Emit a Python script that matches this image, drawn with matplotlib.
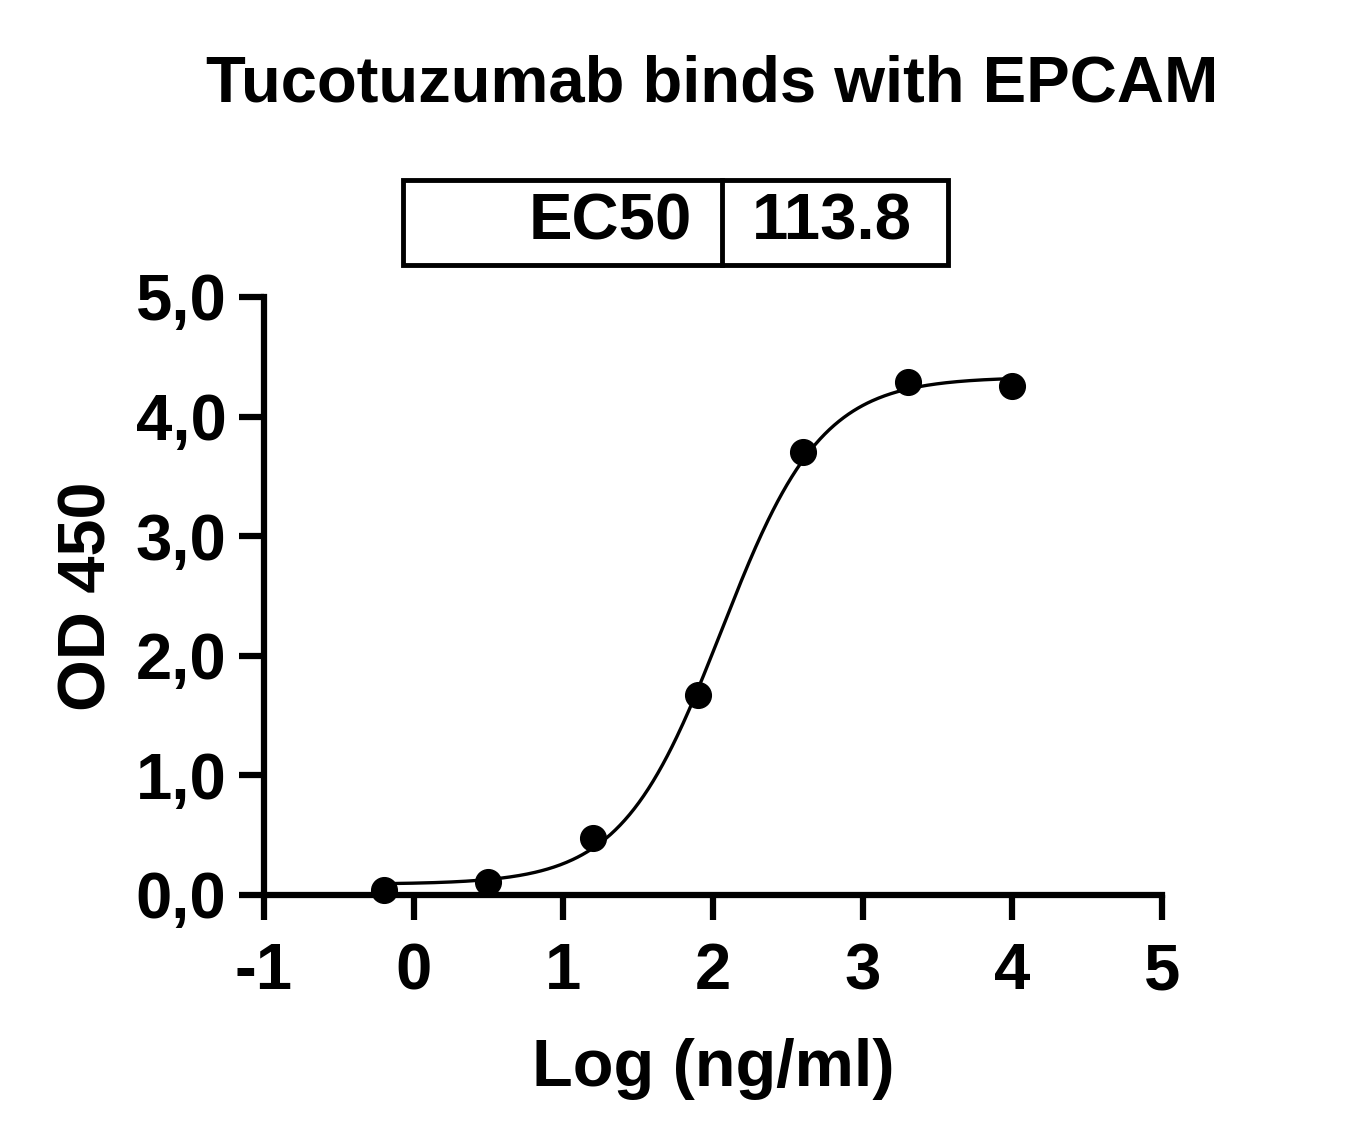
import numpy as np
import matplotlib
matplotlib.use('Agg')
import matplotlib.pyplot as plt
from matplotlib.patches import Rectangle
from matplotlib.lines import Line2D

plt.rcParams['font.family'] = ['Liberation Sans', 'DejaVu Sans']
plt.rcParams['font.weight'] = 'bold'
plt.rcParams['axes.unicode_minus'] = False

# measured points
log_conc = [-0.2, 0.5, 1.2, 1.9, 2.6, 3.3, 4.0]
od450 = [0.04, 0.11, 0.48, 1.67, 3.70, 4.29, 4.26]

# 4PL fit parameters
ec50 = 113.8
bottom = 0.09
top = 4.33
hill = 1.3

x_ticks = [-1, 0, 1, 2, 3, 4, 5]
y_ticks = [0, 1, 2, 3, 4, 5]
y_ticklabels = ['0,0', '1,0', '2,0', '3,0', '4,0', '5,0']

W, H = 1362, 1142
fig = plt.figure(figsize=(W / 100, H / 100), dpi=100)
ax = fig.add_axes([264 / W, 1 - 895 / H, (1162 - 264) / W, (895 - 297) / H])

xs = np.linspace(min(log_conc), max(log_conc), 400)
ys = bottom + (top - bottom) / (1 + 10 ** ((np.log10(ec50) - xs) * hill))
ax.plot(xs, ys, color='black', lw=2.4, clip_on=False)
ax.plot(log_conc, od450, 'o', color='black', ms=18.5, clip_on=False, zorder=3)

ax.set_xlim(-1, 5)
ax.set_ylim(0, 5)
ax.set_xticks(x_ticks)
ax.set_yticks(y_ticks)
ax.set_yticklabels(y_ticklabels)
for s in ['top', 'right']:
    ax.spines[s].set_visible(False)
for s in ['left', 'bottom']:
    ax.spines[s].set_linewidth(4.5)
ax.tick_params(direction='out', length=18, width=4.5, labelsize=47)
ax.tick_params(axis='x', pad=16)
ax.tick_params(axis='y', pad=9)

ax.set_xlabel('Log (ng/ml)', fontsize=48, fontweight='bold', labelpad=26)
ax.set_ylabel('OD 450', fontsize=48, fontweight='bold', labelpad=12)

fig.text(712 / W, 1 - 84 / H, 'Tucotuzumab binds with EPCAM', fontsize=47,
         fontweight='bold', ha='center', va='center')

# EC50 box
x0, x1, xm = 403 / W, 948 / W, 722 / W
y0, y1 = 1 - 265 / H, 1 - 180 / H
fig.patches.append(Rectangle((x0, y0), x1 - x0, y1 - y0, transform=fig.transFigure,
                             fill=False, lw=3.5, ec='black'))
fig.lines.append(Line2D([xm, xm], [y0, y1], transform=fig.transFigure, lw=3.5, color='black'))
fig.text(692 / W, (y0 + y1) / 2, 'EC50', fontsize=47, fontweight='bold', ha='right', va='center')
fig.text(752 / W, (y0 + y1) / 2, '113.8', fontsize=47, fontweight='bold', ha='left', va='center')

fig.savefig('out.png', dpi=100)
